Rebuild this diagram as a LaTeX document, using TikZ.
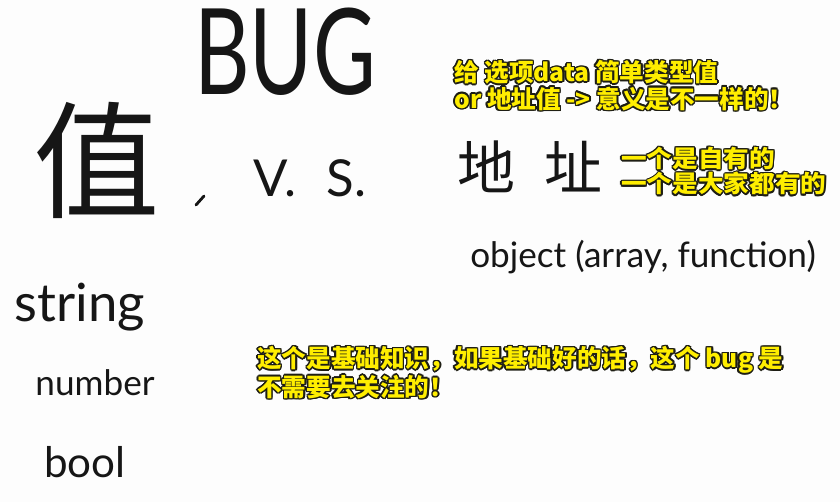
\documentclass[tikz,border=0pt]{standalone}
\usepackage{fontspec}
\usepackage{graphicx}
\usepackage{tikz}
\usetikzlibrary{positioning,calc}
\newfontfamily\handfont{Lato}
\newfontfamily\cjk{Noto Sans CJK SC}
\newfontfamily\cjkwide{Noto Sans CJK SC}[FakeStretch=1.08]
\definecolor{inkBlack}{RGB}{22,22,22}
\definecolor{noteYellow}{RGB}{255,238,0}
\definecolor{noteEdge}{RGB}{30,30,20}
\definecolor{paper}{RGB}{253,253,253}

\newcommand{\notenode}[4][]{%
  \foreach \ang in {0,30,...,330}
    \node[note, #1, text=noteEdge, shift={(\ang:0.85pt)}] at #3 {#4};
  \node[note, #1] (#2) at #3 {#4};
}

\begin{document}
\begin{tikzpicture}[
    x=0.02cm, y=-0.02cm,
    hand/.style={inner sep=0pt, text=inkBlack, font=\handfont},
    handcjk/.style={inner sep=0pt, text=inkBlack, font=\cjk},
    note/.style={inner sep=0pt, anchor=north west, align=left, text=noteYellow,
                 font=\cjk\bfseries\fontsize{14}{15.2}\selectfont}
]
    \fill[paper] (0,0) rectangle (840,502);
    \useasboundingbox (0,0) rectangle (840,502);

    \node[hand, font=\handfont\fontsize{68}{68}\selectfont] (bug) at (285,52) {\scalebox{0.72}[1]{BUG}};
    \node[handcjk, font=\cjk\fontsize{72}{72}\selectfont] (value) at (97,160) {值};
    \coordinate (tickA) at (196,205);
    \coordinate (tickB) at (204,196);
    \draw[inkBlack, line width=1.6pt, line cap=round] (tickA) -- (tickB);
    \node[hand, font=\handfont\fontsize{29}{29}\selectfont] (vs) at (310,178) {V.\hspace{0.6em}S.};
    \node[handcjk, font=\cjk\fontsize{33}{33}\selectfont] (address) at (530,167) {地\hspace{0.5em}址};
    \node[hand, font=\handfont\fontsize{20}{20}\selectfont] (object) at (643,257) {object (array, function)};

    \node[hand, font=\handfont\fontsize{30}{30}\selectfont] (string) at (80,307) {string};
    \node[hand, font=\handfont\fontsize{20}{20}\selectfont] (number) at (95,383) {number};
    \node[hand, font=\handfont\fontsize{24}{24}\selectfont] (bool) at (85,462) {bool};

    \notenode{dataNote}{(454,60)}{给 选项data 简单类型值\\or 地址值 -> 意义是不一样的！}
    \notenode[font=\cjkwide\bfseries\fontsize{13.5}{14.4}\selectfont]{ownNote}{(621,147)}{一个是自有的\\一个是大家都有的}
    \notenode{basicNote}{(257,346)}{这个是基础知识，如果基础好的话，这个 bug 是\\不需要去关注的！}
\end{tikzpicture}
\end{document}
